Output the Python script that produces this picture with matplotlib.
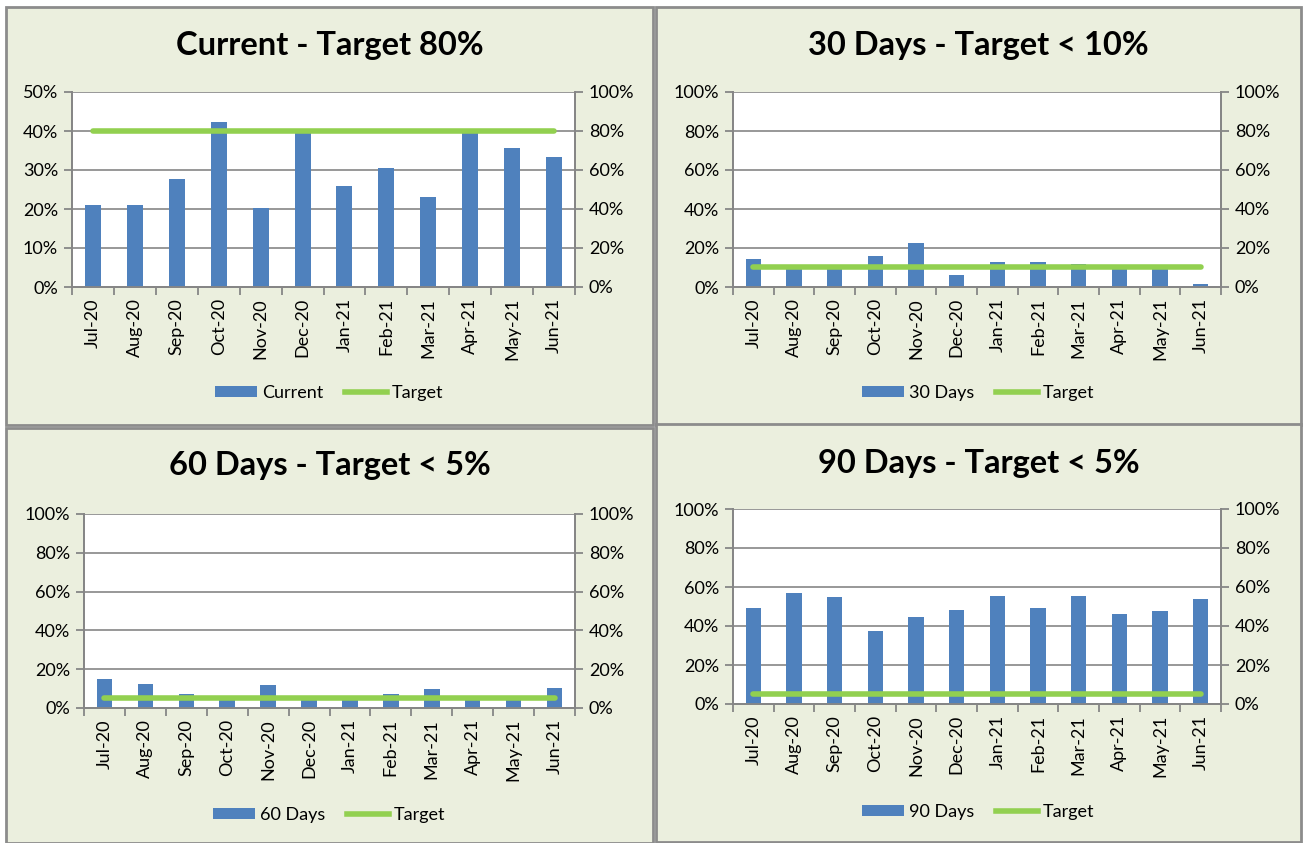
import matplotlib
matplotlib.use("Agg")
import matplotlib.pyplot as plt
from matplotlib.patches import Rectangle, Patch
from matplotlib.lines import Line2D
from matplotlib.ticker import FuncFormatter

plt.rcParams['font.family'] = ['Lato', 'DejaVu Sans']

months = ["Jul-20", "Aug-20", "Sep-20", "Oct-20", "Nov-20", "Dec-20",
          "Jan-21", "Feb-21", "Mar-21", "Apr-21", "May-21", "Jun-21"]

current = [0.21, 0.21, 0.278, 0.424, 0.203, 0.401, 0.258, 0.306, 0.23, 0.40, 0.356, 0.334]
days30 = [0.143, 0.095, 0.09, 0.159, 0.224, 0.064, 0.128, 0.128, 0.116, 0.095, 0.095, 0.014]
days60 = [0.15, 0.125, 0.07, 0.04, 0.12, 0.04, 0.04, 0.07, 0.099, 0.04, 0.064, 0.104]
days90 = [0.492, 0.571, 0.547, 0.376, 0.446, 0.482, 0.552, 0.492, 0.552, 0.462, 0.477, 0.54]

titles = ["Current - Target 80%", "30 Days - Target < 10%",
          "60 Days - Target < 5%", "90 Days - Target < 5%"]
names = ["Current", "30 Days", "60 Days", "90 Days"]
targets = [0.80, 0.10, 0.05, 0.05]
left_max = [0.5, 1.0, 1.0, 1.0]

W, H = 1306, 843
fig = plt.figure(figsize=(W / 100, H / 100), dpi=100)
fig.patch.set_facecolor("white")

BG = "#EBEFDE"
EDGE = "#8C8C8C"
GRID = "#868686"
BLUE = "#4F81BD"
GREEN = "#92D050"
FS = 13

# pixel boxes: panel (x0, y0, x1, y1), plot area, title y, legend y
panels = [(6, 7, 653, 425), (656, 7, 1301, 425), (6, 428, 653, 843), (656, 424, 1301, 842)]
plots = [(72, 92, 575, 287), (733, 92, 1221, 287), (84, 514, 575, 708), (733, 509, 1221, 704)]
title_y = [46, 46, 466, 464]
legend_y = [393, 393, 815, 812]


def fx(px):
    return px / W


def fy(py):
    return 1 - py / H


pct = FuncFormatter(lambda v, p: f"{v * 100:.0f}%")

for i, series in enumerate([current, days30, days60, days90]):
    x0, y0, x1, y1 = panels[i]
    fig.patches.append(Rectangle((fx(x0), fy(y1)), fx(x1 - x0), (y1 - y0) / H,
                                 transform=fig.transFigure, facecolor=BG,
                                 edgecolor=EDGE, linewidth=2.0, zorder=-5))
    a0, b0, a1, b1 = plots[i]
    ax = fig.add_axes([fx(a0), fy(b1), fx(a1 - a0), (b1 - b0) / H])
    ax.set_facecolor("white")
    xs = list(range(len(months)))
    ax.bar(xs, series, width=0.38, color=BLUE, zorder=3)
    ax.set_xlim(-0.5, len(months) - 0.5)
    ax.set_ylim(0, left_max[i])
    step = left_max[i] / 5
    ax.set_yticks([step * k for k in range(6)])
    ax.yaxis.set_major_formatter(pct)
    ax.grid(axis="y", color=GRID, linewidth=1.2, zorder=0)
    ax.set_axisbelow(True)

    # category boundaries get the tick marks, labels sit at centres
    ax.set_xticks([k - 0.5 for k in range(len(months) + 1)])
    ax.set_xticklabels([])
    ax.set_xticks(xs, minor=True)
    ax.set_xticklabels(months, minor=True, rotation=90, fontsize=FS)
    ax.tick_params(axis="x", which="major", length=6, width=1.3, color=GRID, direction="out")
    ax.tick_params(axis="x", which="minor", length=0, pad=8)
    ax.tick_params(axis="y", length=6, width=1.3, color=GRID, labelsize=FS, pad=4)
    ax.spines["top"].set_visible(False)
    for s in ["left", "bottom", "right"]:
        ax.spines[s].set_color(GRID)
        ax.spines[s].set_linewidth(1.3)

    ax2 = ax.twinx()
    ax2.plot([xs[0], xs[-1]], [targets[i]] * 2, color=GREEN, linewidth=4,
             solid_capstyle="round", zorder=4)
    ax2.set_ylim(0, 1)
    ax2.set_yticks([0.2 * k for k in range(6)])
    ax2.yaxis.set_major_formatter(pct)
    ax2.tick_params(axis="y", length=6, width=1.3, color=GRID, labelsize=FS, pad=4)
    ax2.spines["top"].set_visible(False)
    for s in ["left", "bottom", "right"]:
        ax2.spines[s].set_color(GRID)
        ax2.spines[s].set_linewidth(1.3)

    cx = (x0 + x1) / 2
    fig.text(fx(cx), fy(title_y[i]), titles[i], ha="center", va="center",
             fontsize=23.5, fontweight="bold")

    handles = [Patch(facecolor=BLUE, edgecolor="none"),
               Line2D([0], [0], color=GREEN, linewidth=4)]
    fig.legend(handles, [names[i], "Target"], loc="center", ncol=2,
               bbox_to_anchor=(fx(cx), fy(legend_y[i])), frameon=False,
               fontsize=FS, handlelength=2.3, handleheight=0.6,
               columnspacing=1.2, handletextpad=0.3)

fig.savefig("out.png", dpi=100)
